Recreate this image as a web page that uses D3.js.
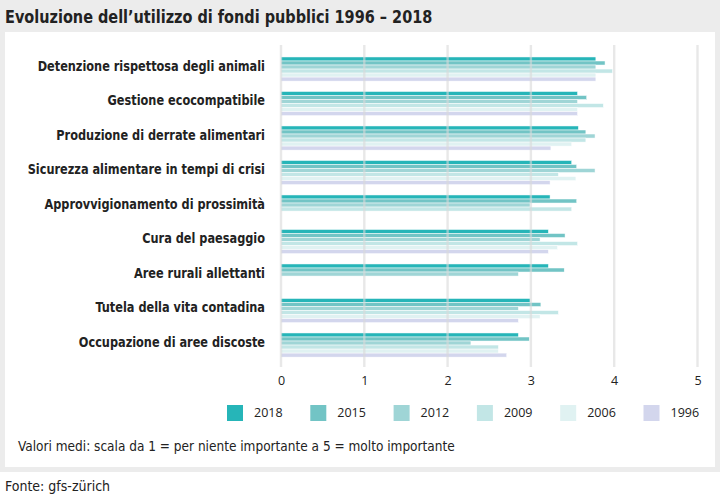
<!DOCTYPE html>
<html><head><meta charset="utf-8">
<script src="https://cdn.jsdelivr.net/npm/d3@7/dist/d3.min.js"></script>
<style>
body{margin:0;padding:0;background:#fff;}
svg{display:block;}
</style></head>
<body><svg id="c" width="720" height="499"></svg>
<script>
const categories = [
  "Detenzione rispettosa degli animali",
  "Gestione ecocompatibile",
  "Produzione di derrate alimentari",
  "Sicurezza alimentare in tempi di crisi",
  "Approvvigionamento di prossimità",
  "Cura del paesaggio",
  "Aree rurali allettanti",
  "Tutela della vita contadina",
  "Occupazione di aree discoste"
];
const years = ["2018","2015","2012","2009","2006","1996"];
const v2018 = [3.78, 3.56, 3.57, 3.49, 3.23, 3.21, 3.21, 2.99, 2.85];
const v2015 = [3.89, 3.67, 3.66, 3.55, 3.55, 3.41, 3.40, 3.12, 2.98];
const v2012 = [3.78, 3.56, 3.77, 3.77, 2.99, 3.11, 2.85, 2.85, 2.28];
const v2009 = [3.98, 3.87, 3.66, 3.33, 3.49, 3.56, null, 3.33, 2.61];
const v2006 = [3.78, 3.56, 3.49, 3.54, null, 3.32, null, 3.11, 2.61];
const v1996 = [3.78, 3.56, 3.24, 3.23, null, 3.21, null, 2.85, 2.71];
const seriesValues = [v2018, v2015, v2012, v2009, v2006, v1996];
const colors = ["#26b5b8", "#72c4c5", "#9fd5d6", "#c2e6e6", "#e0f2f2", "#d3d6ed"];
const xTicks = [0,1,2,3,4,5];
const title = "Evoluzione dell\u2019utilizzo di fondi pubblici 1996 \u2013 2018";
const note = "Valori medi: scala da 1 = per niente importante a 5 = molto importante";
const source = "Fonte: gfs-zürich";

const svg = d3.select("#c");
const condensed = "'DejaVu Sans Condensed','Roboto Condensed',sans-serif";
const regular = "'Open Sans','Noto Sans',sans-serif";

// backgrounds
svg.append("rect").attr("x",0).attr("y",0).attr("width",720).attr("height",472).attr("fill","#ececec");
svg.append("rect").attr("x",5).attr("y",32).attr("width",710).attr("height",435).attr("fill","#fff");

svg.append("g").attr("transform","translate(5,23) scale(0.92,1)")
  .append("text").attr("x",0).attr("y",0).attr("font-family",condensed).attr("font-weight","bold")
  .attr("font-size",17.5).attr("fill","#222").text(title);

const x = d3.scaleLinear().domain([0,5]).range([281, 697.5]);
const y0 = d3.scaleBand().domain(categories).range([51.8, 362.3]).paddingInner(0.3).paddingOuter(0.15);
const y1 = d3.scaleBand().domain(years).range([0, y0.bandwidth()]);

// bars
const g = svg.append("g");
categories.forEach((c, ci) => {
  years.forEach((yr, yi) => {
    const v = seriesValues[yi][ci];
    if (v == null) return;
    g.append("rect")
      .attr("x", x(0))
      .attr("y", y0(c) + y1(yr))
      .attr("width", x(v) - x(0))
      .attr("height", y1.bandwidth())
      .attr("fill", colors[yi])
      .attr("stroke", "#fff").attr("stroke-width", 0.5);
  });
});

// gridlines on top
const grid = svg.append("g");
xTicks.forEach(t => {
  grid.append("line").attr("x1", x(t)).attr("x2", x(t)).attr("y1", 45).attr("y2", 367)
    .attr("stroke", "#d8d8d8").attr("stroke-opacity", 0.6).attr("stroke-width", 2.4);
});

// x axis labels
const axis = d3.axisBottom(x).tickValues(xTicks).tickSize(0).tickPadding(0).tickFormat(d3.format("d"));
const ag = svg.append("g").attr("transform", "translate(0,376)").call(axis);
ag.select(".domain").remove();
ag.selectAll("text").attr("font-family", regular).attr("font-size", 12.5).attr("fill", "#222").attr("dy","0.7em");

// category labels
svg.append("g").selectAll("g").data(categories).join("g")
  .attr("transform", d => `translate(265,${y0(d) + y0.bandwidth()/2 - 3}) scale(0.9,1)`)
  .append("text")
  .attr("dy", "0.35em").attr("text-anchor", "end")
  .attr("font-family", condensed).attr("font-weight", "bold").attr("font-size", 14)
  .attr("fill", "#222").text(d => d);

// legend
const lg = svg.append("g");
years.forEach((yr, i) => {
  const lx = 227 + i * 83.3;
  lg.append("rect").attr("x", lx).attr("y", 405).attr("width", 16).attr("height", 16).attr("fill", colors[i]);
  lg.append("text").attr("x", lx + 27).attr("y", 413).attr("dy", "0.35em")
    .attr("font-family", regular).attr("font-size", 12.5).attr("fill", "#222").text(yr);
});

svg.append("g").attr("transform","translate(18,451) scale(0.965,1)")
  .append("text").attr("font-family", condensed).attr("font-size", 14)
  .attr("fill", "#222").text(note);
svg.append("text").attr("x", 5).attr("y", 491).attr("font-family", condensed).attr("font-size", 14)
  .attr("fill", "#222").text(source);
</script></body></html>
